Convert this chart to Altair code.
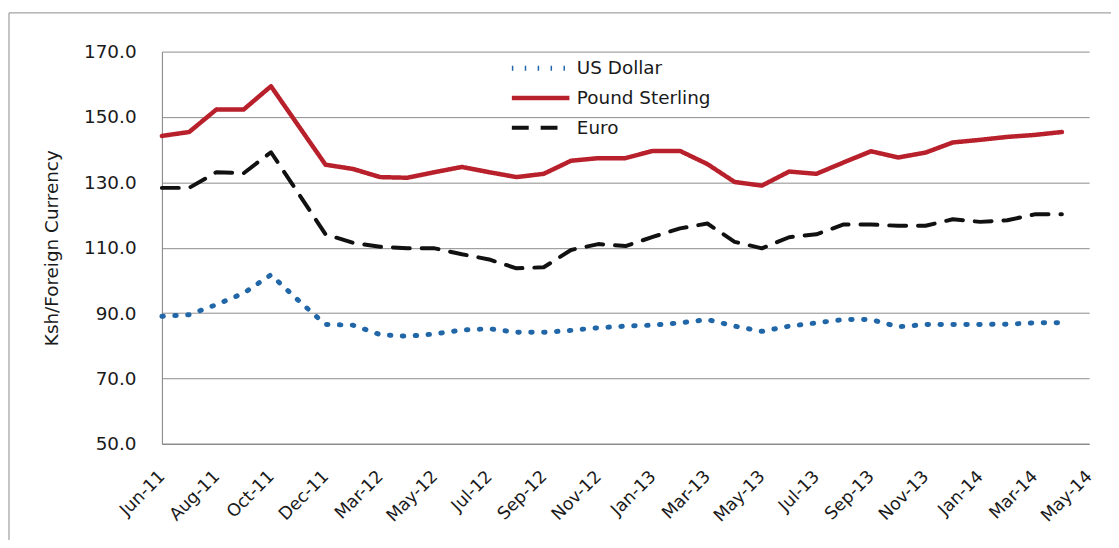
import altair as alt
import pandas as pd

months = ["Jun-11", "Jul-11", "Aug-11", "Sep-11", "Oct-11", "Nov-11", "Dec-11",
          "Feb-12", "Mar-12", "Apr-12", "May-12", "Jun-12", "Jul-12", "Aug-12",
          "Sep-12", "Oct-12", "Nov-12", "Dec-12", "Jan-13", "Feb-13", "Mar-13",
          "Apr-13", "May-13", "Jun-13", "Jul-13", "Aug-13", "Sep-13", "Oct-13",
          "Nov-13", "Dec-13", "Jan-14", "Feb-14", "Mar-14", "Apr-14", "May-14"]

tick_labels = months[0::2]

series_names = ["US Dollar", "Pound Sterling", "Euro"]

usd = [89.0, 89.5, 92.6, 96.1, 101.7, 93.9, 86.5, 86.3, 83.4, 82.9, 83.6, 84.8,
       85.2, 84.1, 84.1, 84.7, 85.5, 86.0, 86.3, 87.0, 88.0, 86.0, 84.4, 86.0,
       87.0, 88.0, 88.0, 85.8, 86.5, 86.5, 86.5, 86.6, 87.0, 87.0]

gbp = [144.2, 145.4, 152.3, 152.3, 159.4, 147.4, 135.4, 134.1, 131.6, 131.4,
       133.1, 134.7, 133.1, 131.6, 132.6, 136.6, 137.4, 137.4, 139.6, 139.6,
       135.6, 130.1, 129.0, 133.3, 132.6, 136.1, 139.5, 137.6, 139.1, 142.2,
       143.0, 143.9, 144.5, 145.4]

eur = [128.3, 128.3, 133.1, 132.8, 139.2, 126.7, 114.1, 111.5, 110.3, 109.8,
       109.8, 108.0, 106.4, 103.7, 104.0, 109.3, 111.1, 110.5, 113.3, 115.9,
       117.4, 111.8, 109.8, 113.2, 114.1, 117.1, 117.1, 116.7, 116.7, 118.7,
       117.9, 118.4, 120.2, 120.2]

rows = []
for name, vals in zip(series_names, [usd, gbp, eur]):
    for m, v in zip(months, vals):
        rows.append({"Month": m, "Rate": v, "Series": name})
df = pd.DataFrame(rows)

FONT = "DejaVu Sans"
TXT = "#1a1a1a"


def make_legend():
    return alt.Legend(orient="none", legendX=350, legendY=2,
                      title=None, symbolType="stroke",
                      symbolSize=3364, symbolStrokeWidth=4,
                      labelFont=FONT, labelFontSize=18.5,
                      labelColor=TXT, labelOffset=5,
                      padding=0, rowPadding=0, clipHeight=29.5)


lines = alt.Chart(df).mark_line(strokeCap="round", strokeJoin="round").encode(
    x=alt.X("Month:N", sort=months,
            scale=alt.Scale(type="point", domain=months, padding=0),
            axis=alt.Axis(values=tick_labels, title=None, labelAngle=-45,
                          labelAlign="right", labelBaseline="middle",
                          labelPadding=30, ticks=False, grid=False,
                          domainColor="#7f7f7f", labelFont=FONT,
                          labelFontSize=17.5, labelColor=TXT)),
    y=alt.Y("Rate:Q",
            scale=alt.Scale(domain=[50, 170], nice=False, zero=False),
            axis=alt.Axis(values=[50, 70, 90, 110, 130, 150, 170], format=".1f",
                          title="Ksh/Foreign Currency", titleFont=FONT,
                          titleFontSize=18.5, titleFontWeight="normal",
                          titleColor=TXT, titlePadding=22,
                          labelFont=FONT, labelFontSize=18.5, labelColor=TXT,
                          labelPadding=26, ticks=False, grid=True,
                          gridColor="#8c8c8c", gridWidth=1,
                          domainColor="#7f7f7f")),
    color=alt.Color("Series:N",
                    scale=alt.Scale(domain=series_names,
                                    range=["#2167a8", "#b8202b", "#111111"]),
                    legend=make_legend()),
    strokeDash=alt.StrokeDash("Series:N",
                              scale=alt.Scale(domain=series_names,
                                              range=[[1.5, 11.5], [1, 0], [17, 12]]),
                              legend=make_legend()),
    strokeWidth=alt.StrokeWidth("Series:N",
                                scale=alt.Scale(domain=series_names, range=[5, 4, 5]),
                                legend=None),
)

frame_left = alt.Chart(alt.Data(values=[{"a": 1}])).mark_rule(
    color="#8c8c8c", strokeWidth=1).encode(
    x=alt.value(-154), y=alt.value(-39), y2=alt.value(540))
frame_top = alt.Chart(alt.Data(values=[{"a": 1}])).mark_rule(
    color="#8c8c8c", strokeWidth=1).encode(
    x=alt.value(-154), x2=alt.value(1000), y=alt.value(-39))

chart = alt.layer(lines, frame_left, frame_top).properties(
    width=934, height=395,
    autosize=alt.AutoSizeParams(type="none"),
    padding={"left": 155, "top": 42, "right": 22, "bottom": 95},
    background="white",
).configure_view(strokeWidth=0)

chart.save("out.html", embed_options={"renderer": "svg", "actions": False})
